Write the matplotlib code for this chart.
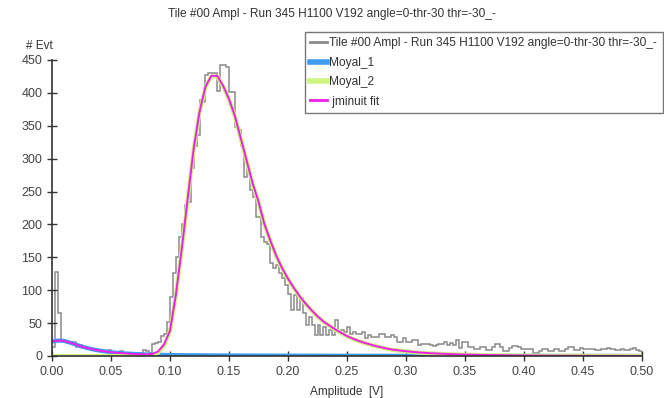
import matplotlib
matplotlib.use("Agg")
import matplotlib.pyplot as plt
from matplotlib.lines import Line2D
import numpy as np

plt.rcParams['font.family'] = ['Liberation Sans', 'DejaVu Sans']

# histogram: 200 bins of 0.0025 V from 0 to 0.5
bin_edges = np.linspace(0, 0.5, 201)
counts = [14, 128, 65, 24, 22, 22, 20, 21, 14, 16,
          12, 13, 10, 11, 9, 8, 8, 7, 6, 9,
          5, 6, 4, 8, 4, 3, 4, 3, 5, 4,
          3, 9, 7, 4, 18, 20, 22, 30, 34, 52,
          90, 126, 150, 181, 200, 229, 234, 286, 320, 336,
          389, 386, 427, 430, 430, 430, 403, 442, 442, 440,
          402, 402, 348, 343, 320, 272, 285, 252, 242, 212,
          212, 181, 174, 171, 141, 134, 138, 126, 118, 108,
          95, 70, 93, 70, 88, 65, 47, 60, 47, 32,
          47, 32, 44, 32, 39, 32, 55, 37, 39, 37,
          44, 34, 37, 34, 34, 37, 27, 32, 29, 29,
          29, 33, 33, 29, 29, 32, 29, 22, 22, 27,
          22, 22, 24, 24, 17, 19, 19, 19, 17, 15,
          17, 19, 19, 22, 17, 20, 16, 24, 12, 22,
          22, 14, 14, 10, 10, 13, 13, 9, 9, 13,
          19, 19, 13, 7, 7, 12, 15, 15, 13, 10,
          10, 10, 10, 5, 5, 7, 10, 10, 8, 8,
          10, 10, 7, 7, 10, 13, 13, 9, 9, 12,
          10, 10, 10, 10, 9, 9, 10, 10, 12, 10,
          10, 9, 9, 10, 9, 9, 10, 12, 9, 7]

# fit components sampled every 0.005 V
fit_x = np.linspace(0, 0.5, 101)
moyal_1 = [22, 23.5, 23, 20.5, 17.5, 14.5, 12, 10, 8.3, 7,
           5.8, 4.9, 4.2, 3.6, 3.1, 2.7, 2.4, 2.1, 1.9, 1.7,
           1.5, 1.4, 1.3, 1.2, 1.15, 1.1, 1.05, 1.0, 0.95, 0.9,
           0.85, 0.8, 0.78, 0.75, 0.72, 0.7, 0.67, 0.65, 0.62, 0.6,
           0.58, 0.56, 0.54, 0.52, 0.5, 0.48, 0.47, 0.45, 0.44, 0.42,
           0.41, 0.4, 0.39, 0.38, 0.37, 0.36, 0.35, 0.34, 0.33, 0.32,
           0.31, 0.3, 0.29, 0.28, 0.28, 0.27, 0.26, 0.26, 0.25, 0.24,
           0.24, 0.23, 0.23, 0.22, 0.22, 0.21, 0.21, 0.2, 0.2, 0.19,
           0.19, 0.18, 0.18, 0.18, 0.17, 0.17, 0.16, 0.16, 0.16, 0.15,
           0.15, 0.15, 0.14, 0.14, 0.14, 0.13, 0.13, 0.13, 0.12, 0.12, 0.12]
moyal_2 = [0, 0, 0, 0, 0, 0, 0, 0, 0, 0,
           0, 0, 0, 0, 0, 0, 0.1, 1, 5, 16,
           37, 92, 162, 238, 313, 370, 408, 425, 425, 410,
           390, 364, 330, 296, 262, 234, 200, 175, 152, 133,
           117, 103, 90, 79, 69, 60, 52, 46, 40, 35,
           30, 26, 22.5, 19.5, 17, 14.5, 12.5, 10.5, 9, 8,
           7, 6, 5.3, 4.6, 4, 3.6, 3.2, 2.8, 2.5, 2.2,
           2, 1.8, 1.6, 1.4, 1.3, 1.2, 1.05, 0.95, 0.85, 0.75,
           0.7, 0.62, 0.56, 0.5, 0.45, 0.4, 0.37, 0.33, 0.3, 0.27,
           0.25, 0.22, 0.2, 0.18, 0.16, 0.15, 0.13, 0.12, 0.11, 0.1, 0.09]
fit_total = np.array(moyal_1) + np.array(moyal_2)

title = "Tile #00 Ampl - Run 345 H1100 V192 angle=0-thr-30 thr=-30_-"
hist_col = '#8a8a8a'
m1_col = '#3d9cf2'
m2_col = '#cdf57f'
fit_col = '#f01ee6'

fig = plt.figure(figsize=(6.64, 3.98), dpi=100)
ax = fig.add_axes([52/664, 42/398, 590/664, 296/398])

ax.stairs(counts, bin_edges, color=hist_col, lw=1.1)
ax.plot(fit_x, moyal_1, color=m1_col, lw=3, solid_capstyle='butt')
ax.plot(fit_x, moyal_2, color=m2_col, lw=3, solid_capstyle='butt')
ax.plot(fit_x, fit_total, color=fit_col, lw=1.4)

ax.set_xlim(0, 0.5)
ax.set_ylim(0, 450)
ax.set_xticks(np.arange(0, 0.501, 0.05))
ax.set_xticklabels(["%.2f" % v for v in np.arange(0, 0.501, 0.05)])
ax.set_yticks(np.arange(0, 451, 50))
for s in ['top', 'right']:
    ax.spines[s].set_visible(False)
for s in ['left', 'bottom']:
    ax.spines[s].set_color('#333333')
    ax.spines[s].set_linewidth(1.2)
ax.tick_params(direction='inout', length=7, width=1, color='#333333',
               labelsize=9, labelcolor='#444444')

ax.set_xlabel("Amplitude  [V]", fontsize=8.5, color='#333333', labelpad=6)
fig.text(26/664, 1 - 46/398, "# Evt", fontsize=8.5, color='#333333', va='center')
fig.text(0.5, 1 - 14/398, title, fontsize=8.6, color='#333333', ha='center', va='center')

handles = [Line2D([], [], color=hist_col, lw=2),
           Line2D([], [], color=m1_col, lw=4),
           Line2D([], [], color=m2_col, lw=4),
           Line2D([], [], color=fit_col, lw=2)]
labels = [title, "Moyal_1", "Moyal_2", " jminuit fit"]
leg = fig.legend(handles, labels, loc='upper left', bbox_to_anchor=(305/664, 1 - 32/398),
                 fontsize=8.6, frameon=True, fancybox=False, handlelength=1.35,
                 handletextpad=0.25, borderpad=0.45, labelspacing=0.62, borderaxespad=0)
leg.get_frame().set_edgecolor('#555555')
leg.get_frame().set_linewidth(1)
for t in leg.get_texts():
    t.set_color('#333333')

fig.savefig("out.png", dpi=100)
